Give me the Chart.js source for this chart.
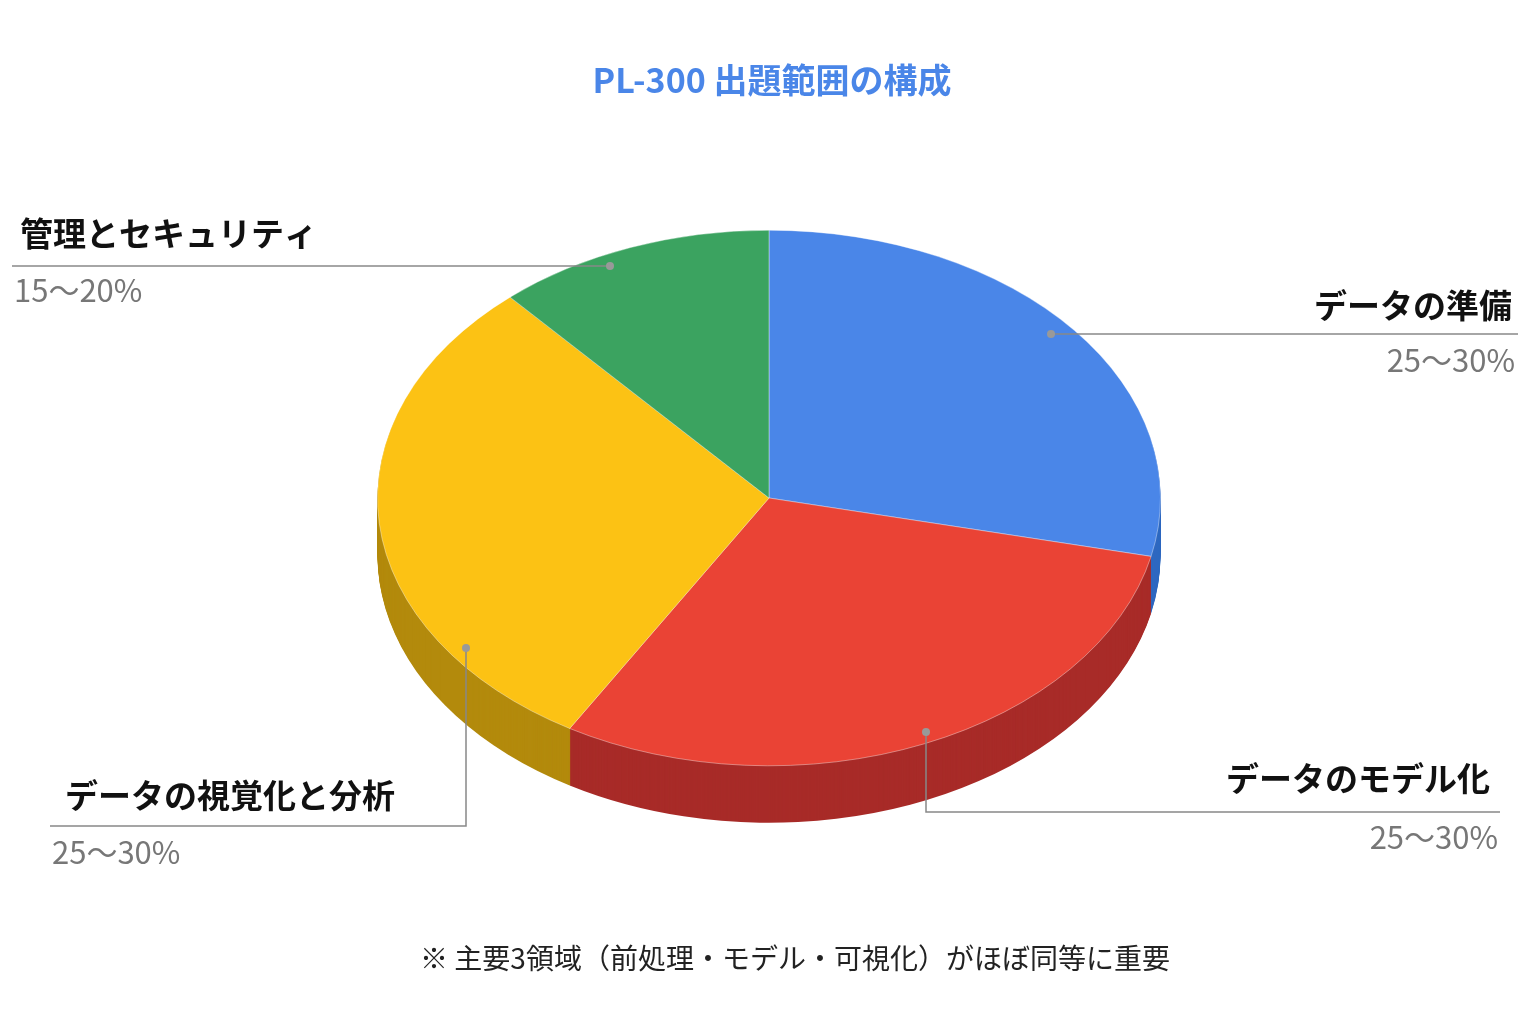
<!DOCTYPE html>
<html>
<head>
<meta charset="utf-8">
<script src="https://cdn.jsdelivr.net/npm/chart.js@4/dist/chart.umd.min.js"></script>
<style>
  html, body { margin: 0; padding: 0; background: #fff; }
  #wrap { position: relative; width: 1536px; height: 1024px; }
  canvas { position: absolute; left: 0; top: 0; }
</style>
</head>
<body>
<div id="wrap"><canvas id="pie" width="1536" height="1024"></canvas></div>
<script>
// データ
const categories = ['データの準備', 'データのモデル化', 'データの視覚化と分析', '管理とセキュリティ'];
const shares = [28.5, 30, 30, 11.5];
const rangeLabels = ['25〜30%', '25〜30%', '25〜30%', '15〜20%'];
const topColors = ['#4a86e8', '#ea4335', '#fcc214', '#3ba360'];
const sideColors = ['#2f68c0', '#a82b28', '#b38a0c', '#2a7a46'];
const titleText = 'PL-300 出題範囲の構成';
const noteText = '※ 主要3領域（前処理・モデル・可視化）がほぼ同等に重要';

const SQUASH = 0.684;
const DEPTH = 57;
const FONT = '"Noto Sans CJK JP", "Noto Sans", sans-serif';

const tiltPlugin = {
    id: 'tilt',
    beforeDatasetsDraw(chart) {
        const ctx = chart.ctx;
        const arcs = chart.getDatasetMeta(0).data;
        const cx = arcs[0].x, cy = arcs[0].y;
        // 側面
        for (let d = DEPTH; d >= 1; d--) {
            ctx.save();
            ctx.translate(cx, cy + d);
            ctx.scale(1, SQUASH);
            arcs.forEach((a, i) => {
                ctx.beginPath();
                ctx.moveTo(0, 0);
                ctx.arc(0, 0, a.outerRadius, a.startAngle, a.endAngle);
                ctx.closePath();
                ctx.fillStyle = sideColors[i];
                ctx.fill();
            });
            ctx.restore();
        }
        ctx.save();
        ctx.translate(cx, cy);
        ctx.scale(1, SQUASH);
        ctx.translate(-cx, -cy);
    },
    afterDatasetsDraw(chart) {
        chart.ctx.restore();
    },
    afterDraw(chart) {
        const ctx = chart.ctx;
        ctx.save();
        // タイトル・注記
        ctx.textAlign = 'center';
        ctx.textBaseline = 'middle';
        ctx.fillStyle = '#4a86e8';
        ctx.font = 'bold 34px ' + FONT;
        ctx.fillText(titleText, 772, 80);
        ctx.fillStyle = '#222';
        ctx.font = '28px ' + FONT;
        ctx.fillText(noteText, 795, 958);

        // 引き出し線とラベル
        const callouts = [
            { dot: [1051, 334], path: [[1051, 334], [1518, 334]], align: 'right', lx: 1512, ly: 305, px: 1515, py: 360 },
            { dot: [926, 732], path: [[926, 732], [926, 812], [1500, 812]], align: 'right', lx: 1490, ly: 778, px: 1498, py: 837 },
            { dot: [466, 648], path: [[466, 648], [466, 826], [50, 826]], align: 'left', lx: 65, ly: 795, px: 52, py: 852 },
            { dot: [610, 266], path: [[610, 266], [12, 266]], align: 'left', lx: 20, ly: 233, px: 14, py: 290 }
        ];
        callouts.forEach((c, i) => {
            ctx.strokeStyle = '#888';
            ctx.lineWidth = 1.5;
            ctx.beginPath();
            c.path.forEach((p, j) => j ? ctx.lineTo(p[0], p[1]) : ctx.moveTo(p[0], p[1]));
            ctx.stroke();
            ctx.fillStyle = '#999';
            ctx.beginPath();
            ctx.arc(c.dot[0], c.dot[1], 4, 0, Math.PI * 2);
            ctx.fill();
            ctx.textAlign = c.align;
            ctx.fillStyle = '#111';
            ctx.font = 'bold 33px ' + FONT;
            ctx.fillText(categories[i], c.lx, c.ly);
            ctx.fillStyle = '#777';
            ctx.font = '31px ' + FONT;
            ctx.fillText(rangeLabels[i], c.px, c.py);
        });
        ctx.restore();
    }
};

new Chart(document.getElementById('pie'), {
    type: 'pie',
    data: {
        labels: categories,
        datasets: [{
            data: shares,
            backgroundColor: topColors,
            borderColor: 'rgba(255,255,255,0.45)',
            borderWidth: 1
        }]
    },
    options: {
        responsive: false,
        animation: false,
        layout: { padding: { left: 377, right: 375, top: 106, bottom: 134 } },
        plugins: { legend: { display: false }, tooltip: { enabled: false } }
    },
    plugins: [tiltPlugin]
});
</script>
</body>
</html>
